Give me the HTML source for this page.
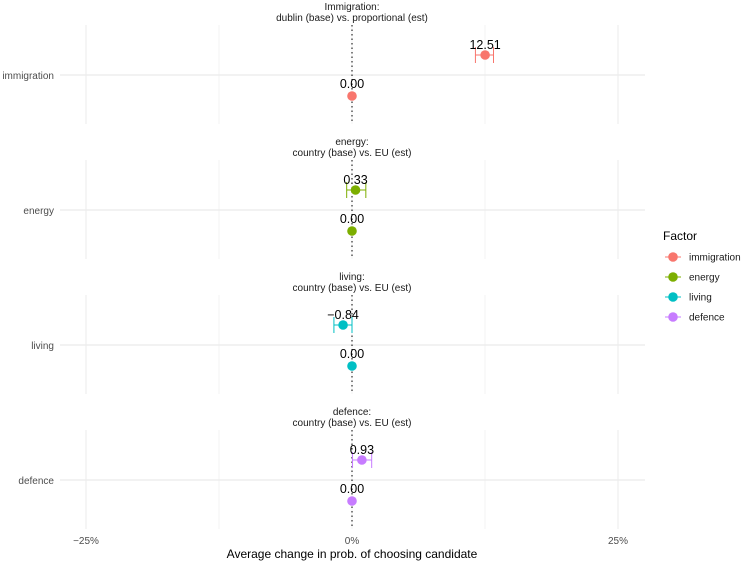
<!DOCTYPE html>
<html><head><meta charset="utf-8"><style>
body{margin:0;background:#fff}
svg{display:block;font-family:"Liberation Sans",sans-serif}
</style></head><body>
<svg id="chart" width="743" height="561" xmlns="http://www.w3.org/2000/svg"></svg>
<script>
const factors = ["immigration","energy","living","defence"];
const titles1 = ["Immigration:","energy:","living:","defence:"];
const titles2 = ["dublin (base) vs. proportional (est)","country (base) vs. EU (est)","country (base) vs. EU (est)","country (base) vs. EU (est)"];
const estimates = [12.51, 0.33, -0.84, 0.93];
const lowers = [11.6, -0.5, -1.7, 0.05];
const uppers = [13.3, 1.3, 0.0, 1.85];
const baseValues = [0, 0, 0, 0];
const colors = ["#F8766D","#7CAE00","#00BFC4","#C77CFF"];
const xTicks = [-25, 0, 25];
const xTickLabels = ["\u221225%","0%","25%"];

const NS="http://www.w3.org/2000/svg";
const svg=document.getElementById('chart');
function mk(tag,attrs,parent){const e=document.createElementNS(NS,tag);for(const k in attrs)e.setAttribute(k,attrs[k]);(parent||svg).appendChild(e);return e;}
const x=v=>352+v*10.64;
const panelTop=[25,160,295,430], panelH=99, pL=60, pR=645;

factors.forEach((f,i)=>{
  const g=mk('g',{});
  
  
  const t=panelTop[i];
  const st1=mk('text',{x:352,y:t-15,'text-anchor':'middle','font-size':10,fill:'#1a1a1a'},g);st1.textContent=titles1[i];
  
  const st2=mk('text',{x:352,y:t-4,'text-anchor':'middle','font-size':10,fill:'#1a1a1a'},g);st2.textContent=titles2[i];
  
  [-25,-12.5,0,12.5,25].forEach(v=>{
    mk('line',{x1:x(v),x2:x(v),y1:t,y2:t+panelH,stroke:'#ebebeb','stroke-width':v%25===0&&v!==0?1:0.6},g);
  });
  const yc=t+50;
  mk('line',{x1:pL,x2:pR,y1:yc,y2:yc,stroke:'#ebebeb','stroke-width':1.2},g);
  const yl=mk('text',{x:54,y:yc+4,'text-anchor':'end','font-size':10,fill:'#4d4d4d'},g);yl.textContent=f;
  
  mk('line',{x1:x(0),x2:x(0),y1:t,y2:t+panelH,stroke:'#000','stroke-width':1,'stroke-dasharray':'1.5,3'},g);
  const ye=yc-20, yb=yc+21;
  const eb=mk('g',{},g);
  
  mk('line',{x1:x(lowers[i]),x2:x(uppers[i]),y1:ye,y2:ye,stroke:colors[i],'stroke-width':1},eb);
  mk('line',{x1:x(lowers[i]),x2:x(lowers[i]),y1:ye-8,y2:ye+8,stroke:colors[i],'stroke-width':1},eb);
  mk('line',{x1:x(uppers[i]),x2:x(uppers[i]),y1:ye-8,y2:ye+8,stroke:colors[i],'stroke-width':1},eb);
  const pe=mk('circle',{cx:x(estimates[i]),cy:ye,r:4.8,fill:colors[i]},g);
  
  const pb=mk('circle',{cx:x(baseValues[i]),cy:yb,r:4.8,fill:colors[i]},g);
  
  const le=mk('text',{x:x(estimates[i]),y:ye-6,'text-anchor':'middle','font-size':12.5,fill:'#000'},g);
  le.textContent=estimates[i].toFixed(2).replace('-','\u2212');
  
  const lb=mk('text',{x:x(baseValues[i]),y:yb-8,'text-anchor':'middle','font-size':12.5,fill:'#000'},g);
  lb.textContent=baseValues[i].toFixed(2);
  
});
xTicks.forEach((v,i)=>{
  const tx=mk('text',{x:x(v),y:544,'text-anchor':'middle','font-size':10,fill:'#4d4d4d'});
  tx.textContent=xTickLabels[i];
  
});
const xt=mk('text',{x:352,y:558,'text-anchor':'middle','font-size':12,fill:'#000'});
xt.textContent='Average change in prob. of choosing candidate';

const lg=mk('g',{});

const ltt=mk('text',{x:663,y:240,'font-size':12,fill:'#000'},lg);ltt.textContent='Factor';

factors.forEach((f,i)=>{
  const yy=257+i*20;
  const e=mk('g',{},lg);
  
  mk('line',{x1:665,x2:681,y1:yy,y2:yy,stroke:colors[i],'stroke-width':1},e);
  mk('circle',{cx:673,cy:yy,r:4.8,fill:colors[i]},e);
  const tt=mk('text',{x:689,y:yy+3.5,'font-size':10,fill:'#1a1a1a'},e);tt.textContent=f;
});
</script>
</body></html>
